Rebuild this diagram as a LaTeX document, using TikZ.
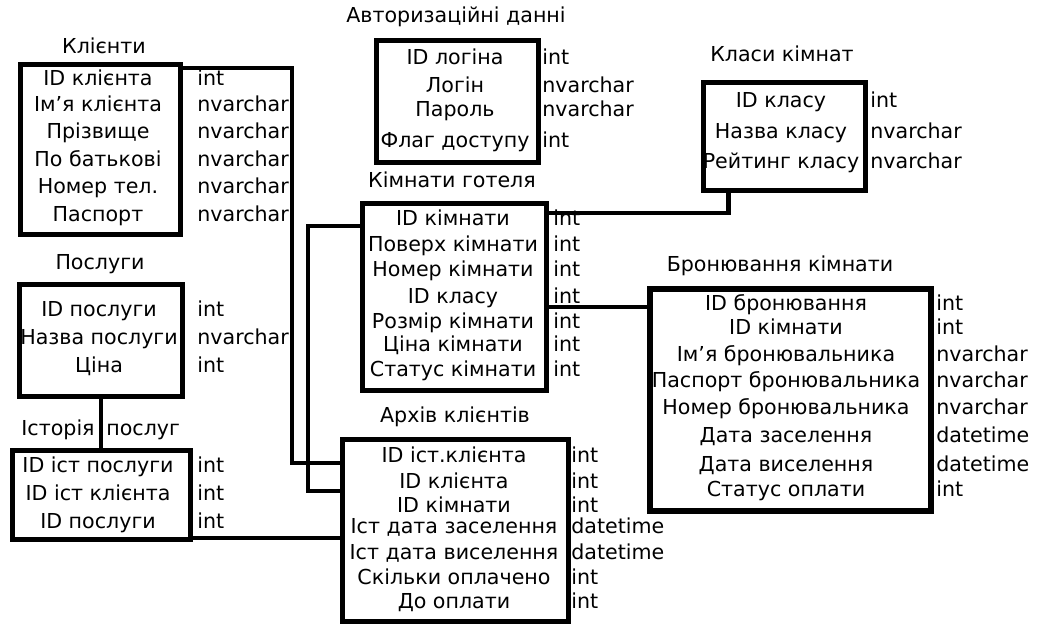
\documentclass[tikz,border=0pt]{standalone}
\usepackage{fontspec}
\setmainfont{DejaVu Sans}
\usetikzlibrary{positioning,calc}
\tikzset{
    tablebox/.style = {rectangle, draw=black, line width=2.5pt, inner sep=0pt, anchor=north west},
    tabtitle/.style = {font=\fontsize{10.3}{12}\selectfont, anchor=mid, inner sep=0pt},
    field/.style = {font=\fontsize{10.3}{12}\selectfont, anchor=mid, inner sep=0pt},
    fieldtype/.style = {font=\fontsize{10.3}{12}\selectfont, anchor=mid west, inner sep=0pt},
    link/.style = {draw=black, line width=2.3pt}
}

\begin{document}
\begin{tikzpicture}[x=0.5pt, y=-0.5pt]
    \useasboundingbox (0,0) rectangle (1038,624);

    % Клієнти
    \node [tablebox, minimum width=80pt, minimum height=85pt] (kli) at (18,62) {};
    \node [tabtitle] (kli-title) at (104,48) {Клієнти};
    \foreach \f/\t/\y [count=\i] in {ID клієнта/int/80, Ім’я клієнта/nvarchar/106, Прізвище/nvarchar/133, По батькові/nvarchar/161, Номер тел./nvarchar/188, Паспорт/nvarchar/216}{
        \node [field] (kli-f\i) at (98,\y) {\f};
        \node [fieldtype] (kli-t\i) at (197,\y) {\t};
    }

    % Авторизаційні данні
    \node [tablebox, minimum width=81pt, minimum height=61pt] (auth) at (374,38) {};
    \node [tabtitle] (auth-title) at (456,17) {Авторизаційні данні};
    \foreach \f/\t/\y [count=\i] in {ID логіна/int/59, Логін/nvarchar/87, Пароль/nvarchar/111, Флаг доступу/int/142}{
        \node [field] (auth-f\i) at (455,\y) {\f};
        \node [fieldtype] (auth-t\i) at (542,\y) {\t};
    }

    % Класи кімнат
    \node [tablebox, minimum width=81pt, minimum height=54pt] (kls) at (701,80) {};
    \node [tabtitle] (kls-title) at (782,56) {Класи кімнат};
    \foreach \f/\t/\y [count=\i] in {ID класу/int/102, Назва класу/nvarchar/133, Рейтинг класу/nvarchar/163}{
        \node [field] (kls-f\i) at (781,\y) {\f};
        \node [fieldtype] (kls-t\i) at (870,\y) {\t};
    }

    % Кімнати готеля
    \node [tablebox, minimum width=92pt, minimum height=93.5pt] (kim) at (360,201) {};
    \node [tabtitle] (kim-title) at (452,182) {Кімнати готеля};
    \foreach \f/\t/\y [count=\i] in {ID кімнати/int/220, Поверх кімнати/int/246, Номер кімнати/int/271, ID класу/int/298, Розмір кімнати/int/323, Ціна кімнати/int/346, Статус кімнати/int/371}{
        \node [field] (kim-f\i) at (453,\y) {\f};
        \node [fieldtype] (kim-t\i) at (553,\y) {\t};
    }

    % Послуги
    \node [tablebox, minimum width=81.5pt, minimum height=56pt] (pos) at (17,282) {};
    \node [tabtitle] (pos-title) at (100,264) {Послуги};
    \foreach \f/\t/\y [count=\i] in {ID послуги/int/311, Назва послуги/nvarchar/339, Ціна/int/367}{
        \node [field] (pos-f\i) at (99,\y) {\f};
        \node [fieldtype] (pos-t\i) at (197,\y) {\t};
    }

    % Історія послуг
    \node [tablebox, minimum width=89pt, minimum height=44.5pt] (ist) at (10,448) {};
    \node [tabtitle, anchor=mid east] (ist-title1) at (95,430) {Історія};
    \node [tabtitle, anchor=mid west] (ist-title2) at (106,430) {послуг};
    \foreach \f/\t/\y [count=\i] in {ID іст послуги/int/467, ID іст клієнта/int/495, ID послуги/int/523}{
        \node [field] (ist-f\i) at (98,\y) {\f};
        \node [fieldtype] (ist-t\i) at (197,\y) {\t};
    }

    % Архів клієнтів
    \node [tablebox, minimum width=113pt, minimum height=91pt] (arx) at (340,437) {};
    \node [tabtitle] (arx-title) at (455,417) {Архів клієнтів};
    \foreach \f/\t/\y [count=\i] in {ID іст.клієнта/int/457, ID клієнта/int/483, ID кімнати/int/507, Іст дата заселення/datetime/528, Іст дата виселення/datetime/554, Скільки оплачено/int/579, До оплати/int/603}{
        \node [field] (arx-f\i) at (454,\y) {\f};
        \node [fieldtype] (arx-t\i) at (571,\y) {\t};
    }

    % Бронювання кімнати
    \node [tablebox, line width=3.2pt, minimum width=140.5pt, minimum height=111pt] (bro) at (647,286) {};
    \node [tabtitle] (bro-title) at (780,266) {Бронювання кімнати};
    \foreach \f/\t/\y [count=\i] in {ID бронювання/int/305, ID кімнати/int/329, Ім’я бронювальника/nvarchar/356, Паспорт бронювальника/nvarchar/382, Номер бронювальника/nvarchar/409, Дата заселення/datetime/437, Дата виселення/datetime/466, Статус оплати/int/491}{
        \node [field] (bro-f\i) at (786,\y) {\f};
        \node [fieldtype] (bro-t\i) at (936,\y) {\t};
    }

    % links
    \coordinate (b1) at (292,463);
    \coordinate (b2) at (308,491);
    \coordinate (kb) at ([yshift=-53pt]kim.north east);
    \coordinate (ia) at ([yshift=2pt]ist.south east);
    \draw [link] ([yshift=-3pt]kli.north east) -| (b1) -- (b1 -| arx.west);
    \draw [link] ([yshift=-12.5pt]kim.north west) -| (b2) -- (b2 -| arx.west);
    \draw [link] ([yshift=-6pt]kim.north east) -| ([xshift=-28pt]kls.south);
    \draw [link] (kb) -- (kb -| bro.west);
    \draw [link] (pos.south) -- (pos.south |- ist.north);
    \draw [link] (ia) -- (ia -| arx.west);
\end{tikzpicture}
\end{document}
